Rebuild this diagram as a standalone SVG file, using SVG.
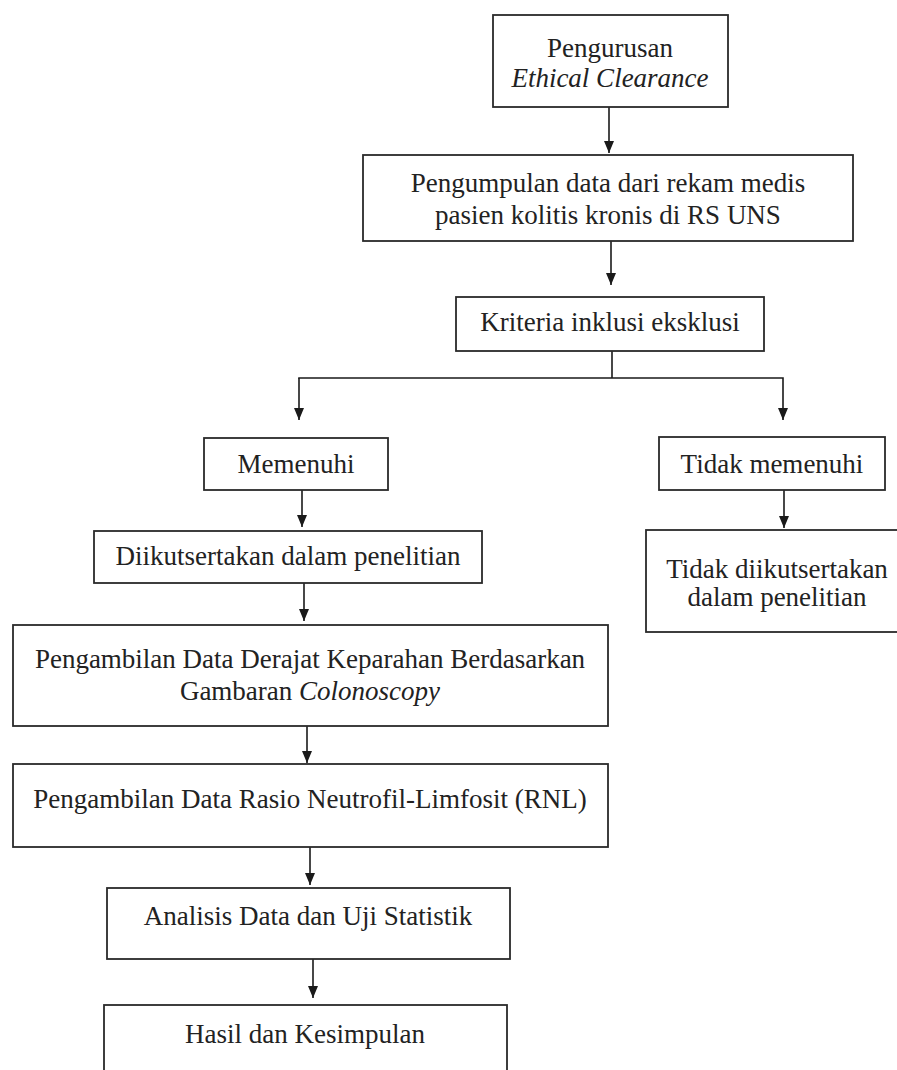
<svg xmlns="http://www.w3.org/2000/svg" width="897" height="1070" viewBox="0 0 897 1070">
<defs>
<marker id="ah" viewBox="0 0 12 10" markerWidth="12" markerHeight="10" refX="12" refY="5" orient="auto" markerUnits="userSpaceOnUse">
<path d="M0,0 L12,5 L0,10 z" fill="#1a1a1a"/>
</marker>
<style>
.box{fill:#fff;stroke:#2a2a2a;stroke-width:1.8}
.t{font-family:"Liberation Serif","Times New Roman",serif;font-size:27px;fill:#222;text-anchor:middle}
.i{font-style:italic}
.c{fill:none;stroke:#1a1a1a;stroke-width:1.6}
.a{marker-end:url(#ah)}
</style>
</defs>
<rect width="897" height="1070" fill="#fff"/>
<g id="connectors">
<line class="c a" x1="609" y1="107" x2="609" y2="153"/>
<line class="c a" x1="611" y1="241" x2="611" y2="285"/>
<polyline class="c" points="612,351 612,378"/>
<polyline class="c a" points="299,378 299,420"/>
<polyline class="c a" points="298.2,378 783,378 783,420"/>
<line class="c a" x1="302" y1="490" x2="302" y2="527"/>
<line class="c a" x1="784" y1="490" x2="784" y2="528"/>
<line class="c a" x1="304" y1="583" x2="304" y2="621"/>
<line class="c a" x1="307" y1="726" x2="307" y2="763"/>
<line class="c a" x1="310" y1="847" x2="310" y2="885"/>
<line class="c a" x1="313" y1="959" x2="313" y2="998"/>
</g>
<g id="n1">
<rect class="box" x="493" y="15" width="235" height="92"/>
<text class="t" x="610" y="57">Pengurusan</text>
<text class="t i" x="610" y="87">Ethical Clearance</text>
</g>
<g id="n2">
<rect class="box" x="363" y="155" width="490" height="86"/>
<text class="t" x="608" y="192">Pengumpulan data dari rekam medis</text>
<text class="t" x="608" y="224">pasien kolitis kronis di RS UNS</text>
</g>
<g id="n3">
<rect class="box" x="456" y="297" width="308" height="54"/>
<text class="t" x="610" y="331">Kriteria inklusi eksklusi</text>
</g>
<g id="n4">
<rect class="box" x="204" y="438" width="184" height="52"/>
<text class="t" x="296" y="473">Memenuhi</text>
</g>
<g id="n5">
<rect class="box" x="659" y="437" width="226" height="53"/>
<text class="t" x="772" y="473">Tidak memenuhi</text>
</g>
<g id="n6">
<rect class="box" x="94" y="531" width="388" height="52"/>
<text class="t" x="288" y="565">Diikutsertakan dalam penelitian</text>
</g>
<g id="n7">
<rect class="box" x="646" y="530" width="252" height="102"/>
<text class="t" x="777" y="578">Tidak diikutsertakan</text>
<text class="t" x="777" y="606">dalam penelitian</text>
</g>
<g id="n8">
<rect class="box" x="13" y="625" width="595" height="101"/>
<text class="t" x="310" y="668">Pengambilan Data Derajat Keparahan Berdasarkan</text>
<text class="t" x="310" y="700">Gambaran <tspan class="i">Colonoscopy</tspan></text>
</g>
<g id="n9">
<rect class="box" x="13" y="764" width="595" height="83"/>
<text class="t" x="310" y="808">Pengambilan Data Rasio Neutrofil-Limfosit (RNL)</text>
</g>
<g id="n10">
<rect class="box" x="107" y="888" width="403" height="71"/>
<text class="t" x="308" y="925">Analisis Data dan Uji Statistik</text>
</g>
<g id="n11">
<rect class="box" x="104" y="1005" width="403" height="80"/>
<text class="t" x="305" y="1043">Hasil dan Kesimpulan</text>
</g>
</svg>
